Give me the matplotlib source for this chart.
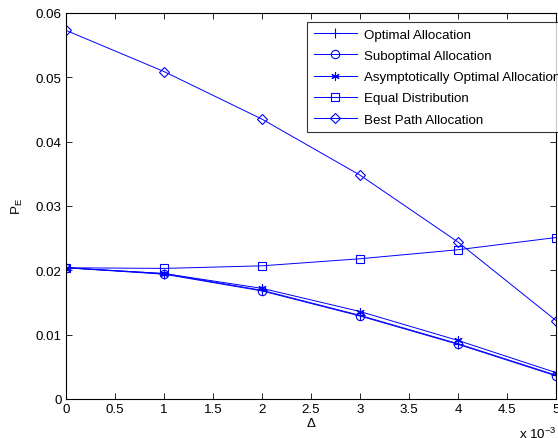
import matplotlib
matplotlib.use("Agg")
import matplotlib.pyplot as plt
import numpy as np

plt.rcParams['font.family'] = ['Liberation Sans', 'DejaVu Sans']
plt.rcParams['mathtext.fontset'] = 'custom'
plt.rcParams['mathtext.rm'] = 'Liberation Sans'

delta = [0, 1, 2, 3, 4, 5]  # x 10^-3
optimal = [0.0204, 0.0195, 0.0169, 0.0130, 0.0086, 0.0037]
suboptimal = [0.0204, 0.0194, 0.0168, 0.0129, 0.0085, 0.0036]
asymptotic = [0.0204, 0.0195, 0.0172, 0.0136, 0.0091, 0.0041]
equal = [0.0204, 0.0203, 0.0207, 0.0218, 0.0232, 0.0251]
best_path = [0.0573, 0.0509, 0.0435, 0.0348, 0.0244, 0.0122]

labels = ['Optimal Allocation', 'Suboptimal Allocation',
          'Asymptotically Optimal Allocation', 'Equal Distribution',
          'Best Path Allocation']
series = [optimal, suboptimal, asymptotic, equal, best_path]
markers = ['+', 'o', (6, 2, 0), 's', 'D']
msizes = [7, 6, 6, 6, 5.5]

FS = 9.6
fig = plt.figure(figsize=(5.58, 4.39), dpi=100)
ax = fig.add_axes([66/558, 1-400/439, 490/558, 386/439])

x = np.array(delta) * 1e-3
for ys, lab, m, ms in zip(series, labels, markers, msizes):
    kw = dict(markerfacecolor='none') if m in ('o', 's', 'D') else {}
    ax.plot(x, ys, color='#0000ff', lw=0.7, marker=m, ms=ms,
            mew=0.8, label=lab, **kw)

ax.set_xlim(0, 0.005)
ax.set_ylim(0, 0.06)
ax.set_xticks(np.arange(0, 5.01, 0.5) * 1e-3)
ax.set_xticklabels(['0', '0.5', '1', '1.5', '2', '2.5', '3', '3.5', '4', '4.5', '5'])
ax.set_yticks(np.arange(0, 0.061, 0.01))
ax.set_yticklabels(['0', '0.01', '0.02', '0.03', '0.04', '0.05', '0.06'])
ax.tick_params(direction='in', top=True, right=True, labelsize=FS, length=4, width=0.6, pad=3)
for s in ax.spines.values():
    s.set_linewidth(0.8)

ax.set_xlabel('Δ', fontsize=FS, labelpad=1)
ax.set_ylabel('P$_\\mathregular{E}$', fontsize=FS, labelpad=8)
fig.text(519/558, 1-434/439, 'x 10$^{\\mathregular{-3}}$', fontsize=FS, ha='left', va='center')

leg = ax.legend(loc='upper left', bbox_to_anchor=(307/558, 1-23/439),
                bbox_transform=fig.transFigure, fontsize=FS, frameon=True,
                fancybox=False, edgecolor='black', borderpad=0.5,
                labelspacing=0.66, handlelength=3.25, handletextpad=0.55,
                borderaxespad=0)
leg.get_frame().set_linewidth(0.8)

fig.savefig('out.png', dpi=100)
